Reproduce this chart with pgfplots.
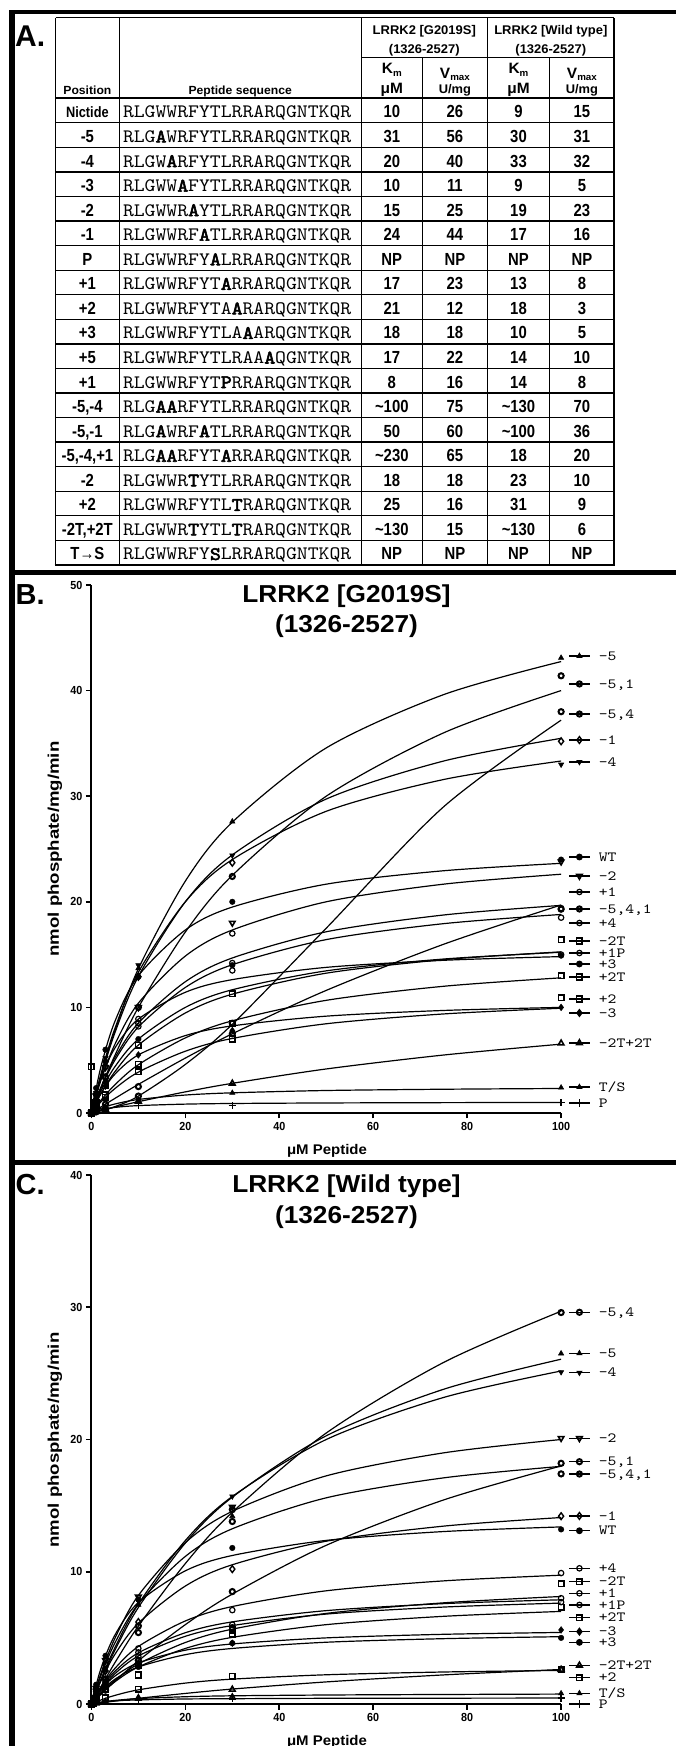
\documentclass[border=0pt]{standalone}
\usepackage{fontspec}
\usepackage{graphicx}
\usepackage{pgfplots}
\usepackage{pgfplotstable}
\pgfplotsset{compat=1.18}
\setmainfont{Liberation Sans}
\newfontfamily\numf{Liberation Sans}[FakeStretch=0.85]
\newfontfamily\hdf{Liberation Sans}[FakeStretch=1.03]
\newfontfamily\ttlf{Liberation Sans}[FakeStretch=1.07]
\newfontfamily\tkf{Liberation Sans}[FakeStretch=0.92]
\newfontfamily\seqf{lmmono10-regular.otf}[BoldFont=lmmono10-regular.otf, BoldFeatures={FakeBold=3}, FakeStretch=1.09]
\newfontfamily\legf{lmmono10-regular.otf}[FakeStretch=1.2]
\newfontfamily\panf{Liberation Sans}
\newcommand\fs[1]{\fontsize{#1}{#1}\selectfont}

% ---------- Panel B data (G2019S) ----------
\pgfplotstableread{
x m5 m51 m54 m1 m4 wt m2 p1 m541 p4 m2t p1p p3 p2t p2 m3 tt ts pp
0 0 0 0 0 0 0 0 0 0 0 0 0 0 0 0 0 0 0 0
2 3.39 2.31 0.2 3.38 3.64 4.33 3.06 2.42 0.56 2.32 1.8 3.2 2.06 1.19 1.04 1.83 0.23 0.43 0.3
5 7.78 5.45 0.6 7.59 8.0 8.67 6.5 5.23 1.38 5.0 3.91 6.15 4.38 2.67 2.31 3.67 0.56 0.85 0.53
10 13.66 10.0 1.6 12.94 13.33 13.0 10.4 8.52 2.71 8.15 6.43 8.89 7.0 4.57 3.87 5.5 1.07 1.28 0.7
20 21.96 17.14 4.6 20.0 20.0 17.33 14.86 12.43 5.2 11.89 9.47 11.43 10.0 7.11 5.85 7.33 2.0 1.7 0.84
30 27.54 22.5 8.4 24.44 24.0 19.5 17.33 14.68 7.5 14.04 11.25 12.63 11.67 8.73 7.06 8.25 2.81 1.91 0.9
50 34.57 30.0 17.5 29.73 28.57 21.67 20.0 17.16 11.61 16.42 13.24 13.79 13.46 10.67 8.45 9.17 4.17 2.13 0.95
75 39.62 36.0 29.0 33.33 31.58 22.94 21.67 18.75 15.98 17.93 14.52 14.46 14.58 12.0 9.38 9.71 5.49 2.25 0.98
100 42.75 40.0 37.2 35.48 33.33 23.64 22.61 19.66 19.70 18.8 15.26 14.81 15.22 12.8 9.92 10.0 6.52 2.32 1.0
}\cB
\pgfplotstableread{
x m5 m51 m54 m1 m4 wt m2 p1 m541 p4 m2t p1p p3 p2t p2 m3 tt ts pp
0 0 0 0 0 0 0 0 0 0 0 4.4 0 0 0 0 0 0 0 0
1 1.75 1.18 0.1 1.76 1.9 2.36 1.63 1.28 0.28 1.22 0.95 1.78 1.09 0.62 0.55 1.0 0.11 0.23 0.18
3 4.94 3.4 0.4 4.89 5.22 6.0 4.33 3.45 0.84 3.3 2.57 4.36 2.92 1.71 1.5 2.54 0.34 0.59 0.39
10 13.7 10.0 1.6 12.9 14.0 12.9 10.0 8.5 2.5 8.2 6.4 8.9 7.0 4.6 3.9 5.5 1.1 1.2 0.7
30 27.6 22.4 8.5 23.7 24.4 20.0 18.0 17.0 7.5 14.2 11.3 13.5 14.0 8.5 7.0 7.8 2.8 1.9 0.7
100 43.1 41.4 38.0 35.2 33.0 24.0 23.8 19.4 19.3 18.5 16.4 15.0 14.9 13.0 10.9 10.0 6.6 2.4 1.0
}\dB
% ---------- Panel C data (wild type) ----------
\pgfplotstableread{
x m54 m5 m4 m2 m51 m541 m1 wt p4 m2t p1 p1p p2t m3 p3 tt p2 ts pp
0 0 0 0 0 0 0 0 0 0 0 0 0 0 0 0 0 0 0 0
2 1.29 1.74 1.84 2.27 0.71 2.12 1.74 2.65 1.26 0.8 1.19 1.09 0.76 1.07 0.93 0.09 0.3 0.14 0.13
5 3.12 4.06 4.25 4.96 1.71 4.61 3.75 5.21 2.69 1.79 2.47 2.29 1.68 2.11 1.87 0.22 0.65 0.27 0.24
10 5.89 7.3 7.56 8.21 3.27 7.57 6.11 7.68 4.35 3.03 3.87 3.63 2.8 3.11 2.8 0.43 1.07 0.41 0.31
20 10.62 12.17 12.36 12.2 6.0 11.16 8.92 10.07 6.28 4.65 5.39 5.12 4.2 4.07 3.73 0.8 1.58 0.55 0.38
30 14.5 15.64 15.69 14.57 8.31 13.25 10.53 11.23 7.37 5.66 6.21 5.93 5.04 4.54 4.2 1.13 1.88 0.62 0.4
50 20.49 20.28 20.0 17.25 12.0 15.59 12.31 12.37 8.56 6.85 7.06 6.8 6.0 5.0 4.67 1.67 2.21 0.68 0.43
75 25.83 23.8 23.18 18.99 15.43 17.1 13.45 13.04 9.31 7.65 7.59 7.33 6.63 5.27 4.94 2.2 2.42 0.72 0.44
100 29.7 26.07 25.18 20.0 18.0 17.97 14.1 13.39 9.74 8.13 7.88 7.63 7.0 5.41 5.09 2.61 2.54 0.75 0.45
}\cC
\pgfplotstableread{
x m54 m5 m4 m2 m51 m541 m1 wt p4 m2t p1 p1p p2t m3 p3 tt p2 ts pp
0 0 0 0 0 0 0 0 0 0 0 0 0 0 0 0 0 0 0 0
1 0.65 0.89 0.94 1.19 0.36 1.12 0.92 1.46 0.67 0.42 0.64 0.58 0.4 0.59 0.51 0.05 0.16 0.07 0.08
3 1.9 2.55 2.65 3.3 1.05 3.0 2.5 3.65 1.8 1.15 1.66 1.55 1.1 1.5 1.3 0.14 0.45 0.19 0.18
10 5.9 7.5 7.8 8.1 3.3 5.4 6.2 7.9 4.2 2.2 3.9 3.6 2.9 3.1 2.8 0.45 1.1 0.4 0.3
30 14.7 14.2 15.7 14.9 8.5 13.8 10.2 11.8 7.1 5.6 6.0 5.8 5.3 4.6 4.6 1.1 2.1 0.6 0.4
100 29.6 26.5 25.1 20.1 18.2 17.4 14.2 13.2 9.9 9.1 8.0 7.7 7.3 5.6 5.0 2.6 2.6 0.8 0.45
}\dC

\pgfplotsset{
  crv/.style={black, line width=1.2pt, smooth, mark=none},
  mTu/.style={mark=triangle*, mark size=3pt, mark options={solid, fill=black, line width=0.6pt}},
  mTd/.style={mark=triangle*, mark size=3pt, mark options={solid, fill=black, rotate=180, line width=0.6pt}},
  mTdo/.style={mark=triangle, mark size=3.2pt, mark options={solid, rotate=180, line width=1.6pt}},
  mTuo/.style={mark=triangle, mark size=3.2pt, mark options={solid, line width=1.6pt}},
  mRing/.style={mark=o, mark size=2.6pt, mark options={solid, line width=2pt}},
  mCo/.style={mark=o, mark size=2.7pt, mark options={solid, line width=1.2pt}},
  mCf/.style={mark=*, mark size=2.8pt, mark options={solid, fill=black}},
  mDo/.style={mark=diamond, mark size=3.4pt, mark options={solid, line width=1.4pt}},
  mDf/.style={mark=diamond*, mark size=3.4pt, mark options={solid, fill=black}},
  mSq/.style={mark=square, mark size=2.8pt, mark options={solid, line width=1.6pt}},
  mPl/.style={mark=+, mark size=3.6pt, mark options={solid, line width=1.6pt}},
  myaxis/.style={
    scale only axis, width=469.7pt,
    xmin=0, xmax=100, ymin=0,
    axis lines*=left, axis line style={line width=2pt, -},
    tick align=outside, major tick length=5.5pt,
    tick style={line width=1.6pt, black},
    xtick={0,20,...,100},
    clip=false,
    /pgf/number format/assume math mode=true,
    tick label style={font=\tkf\bfseries\fs{11.7}},
  },
}
\tikzset{
  leg/.style={anchor=west, inner sep=0pt, text height=8.4pt, text depth=0pt, font=\legf\fs{14}},
  tabn/.style={anchor=base, inner sep=0pt, font=\numf\bfseries\fs{17.5}},
  seq/.style={anchor=base west, inner sep=0pt, font=\seqf\fs{19}},
  hd/.style={anchor=base, inner sep=0pt, font=\hdf\bfseries\fs{12.6}},
  hdk/.style={anchor=base, inner sep=0pt, font=\hdf\bfseries\fs{15}},
  hdu/.style={anchor=base, inner sep=0pt, font=\hdf\bfseries\fs{12.5}},
  hdp/.style={anchor=base, inner sep=0pt, font=\hdf\bfseries\fs{11.8}},
  ttl/.style={anchor=base, inner sep=0pt, font=\ttlf\bfseries\fs{24.5}},
  xl/.style={anchor=base, inner sep=0pt, font=\ttlf\bfseries\fs{14}},
  pan/.style={anchor=base west, inner sep=0pt, font=\panf\bfseries\fs{29}},
}

\newcommand\ser[6]{%
  \addplot[crv] table[x index=0, y index=#3]{#1};
  \addplot[black, only marks, #4] table[x index=0, y index=#3]{#2};
  \addplot[black, line width=1.2pt, sharp plot, #4, mark indices={2}] coordinates {(101.7,#5)(103.9,#5)(106.1,#5)};
  \node[leg] at (axis cs:108.0,#5) {#6};
}

\newcommand\tabrow[7]{%
  \pgfmathsetmacro\yb{98.3+24.56*(#1-1)+19.6}
  \node[tabn] at (87.4,\yb) {#2};
  \node[seq] at (122.8,\yb) {#3};
  \node[tabn] at (391.8,\yb) {#4};
  \node[tabn] at (454.9,\yb) {#5};
  \node[tabn] at (518.5,\yb) {#6};
  \node[tabn] at (581.9,\yb) {#7};
}
\newcommand\tl{\textasciitilde}

\begin{document}
\begin{tikzpicture}
\useasboundingbox (0pt,0pt) rectangle (676pt,1746pt);
\fill[white] (0pt,0pt) rectangle (676pt,1746pt);

\begin{scope}[x=1pt, y=-1pt, yshift=1746pt]
  % frame
  \draw[line width=4pt] (9,12.5) -- (676,12.5);
  \draw[line width=5.5pt] (11.8,10.5) -- (11.8,1746);
  \draw[line width=4.5pt] (9,572.5) -- (676,572.5);
  \draw[line width=4.5pt] (9,1162.5) -- (676,1162.5);
  % panel letters
  \node[pan, font=\panf\bfseries\fs{30}] at (15,46.7) {A.};
  \node[pan] at (15.5,605) {B.};
  \node[pan] at (15.5,1195) {C.};
  % table grid
  \draw[line width=1pt] (55.6,18) -- (614.2,18);
  \draw[line width=1pt] (55.6,18) -- (55.6,565);
  \draw[line width=2.2pt] (614.2,18) -- (614.2,566);
  \draw[line width=2.2pt] (54.6,565) -- (615.2,565);
  \foreach \xx in {119.3,361.1,487.4} \draw[line width=1pt] (\xx,18) -- (\xx,565);
  \foreach \xx in {422.4,549.5} \draw[line width=1pt] (\xx,57.3) -- (\xx,565);
  \draw[line width=1pt] (361.1,57.3) -- (614.2,57.3);
  \draw[line width=2.4pt] (55.6,98.3) -- (614.2,98.3);
  \foreach \ii in {1,...,18} \draw[line width=1.3pt] (55.6,{98.3+24.56*\ii}) -- (614.2,{98.3+24.56*\ii});
  % header
  \node[hd] at (424.3,34.3) {LRRK2 [G2019S]};
  \node[hd] at (424.3,53.3) {(1326-2527)};
  \node[hd] at (550.8,34.3) {LRRK2 [Wild type]};
  \node[hd] at (550.8,53.3) {(1326-2527)};
  \node[hdk] at (391.8,74) {K\raisebox{-2.5pt}{\fs{9.5}m}};
  \node[hdk] at (391.8,94) {μM};
  \node[hdk] at (454.9,78.3) {V\raisebox{-2.5pt}{\fs{9.5}max}};
  \node[hdu] at (454.9,94) {U/mg};
  \node[hdk] at (518.5,74) {K\raisebox{-2.5pt}{\fs{9.5}m}};
  \node[hdk] at (518.5,94) {μM};
  \node[hdk] at (581.9,78.3) {V\raisebox{-2.5pt}{\fs{9.5}max}};
  \node[hdu] at (581.9,94) {U/mg};
  \node[hdp] at (87.4,94.3) {Position};
  \node[hdp] at (240.2,94.3) {Peptide sequence};
  % rows
  \tabrow{1}{{\fs{15}Nictide}}{RLGWWRFYTLRRARQGNTKQR}{10}{26}{9}{15}
  \tabrow{2}{-5}{RLG\textbf{A}WRFYTLRRARQGNTKQR}{31}{56}{30}{31}
  \tabrow{3}{-4}{RLGW\textbf{A}RFYTLRRARQGNTKQR}{20}{40}{33}{32}
  \tabrow{4}{-3}{RLGWW\textbf{A}FYTLRRARQGNTKQR}{10}{11}{9}{5}
  \tabrow{5}{-2}{RLGWWR\textbf{A}YTLRRARQGNTKQR}{15}{25}{19}{23}
  \tabrow{6}{-1}{RLGWWRF\textbf{A}TLRRARQGNTKQR}{24}{44}{17}{16}
  \tabrow{7}{P}{RLGWWRFY\textbf{A}LRRARQGNTKQR}{NP}{NP}{NP}{NP}
  \tabrow{8}{+1}{RLGWWRFYT\textbf{A}RRARQGNTKQR}{17}{23}{13}{8}
  \tabrow{9}{+2}{RLGWWRFYTA\textbf{A}RARQGNTKQR}{21}{12}{18}{3}
  \tabrow{10}{+3}{RLGWWRFYTLA\textbf{A}ARQGNTKQR}{18}{18}{10}{5}
  \tabrow{11}{+5}{RLGWWRFYTLRAA\textbf{A}QGNTKQR}{17}{22}{14}{10}
  \tabrow{12}{+1}{RLGWWRFYT\textbf{P}RRARQGNTKQR}{8}{16}{14}{8}
  \tabrow{13}{-5,-4}{RLG\textbf{AA}RFYTLRRARQGNTKQR}{\tl100}{75}{\tl130}{70}
  \tabrow{14}{-5,-1}{RLG\textbf{A}WRF\textbf{A}TLRRARQGNTKQR}{50}{60}{\tl100}{36}
  \tabrow{15}{-5,-4,+1}{RLG\textbf{AA}RFYT\textbf{A}RRARQGNTKQR}{\tl230}{65}{18}{20}
  \tabrow{16}{-2}{RLGWWR\textbf{T}YTLRRARQGNTKQR}{18}{18}{23}{10}
  \tabrow{17}{+2}{RLGWWRFYTL\textbf{T}RARQGNTKQR}{25}{16}{31}{9}
  \tabrow{18}{-2T,+2T}{RLGWWR\textbf{T}YTL\textbf{T}RARQGNTKQR}{\tl130}{15}{\tl130}{6}
  \tabrow{19}{T→S}{RLGWWRFY\textbf{S}LRRARQGNTKQR}{NP}{NP}{NP}{NP}
  % plot titles and labels
  \node[ttl] at (346.5,602.7) {LRRK2 [G2019S]};
  \node[ttl] at (346.5,633) {(1326-2527)};
  \node[ttl] at (346.5,1192.7) {LRRK2 [Wild type]};
  \node[ttl] at (346.5,1224) {(1326-2527)};
  \node[rotate=90, inner sep=0pt, font=\bfseries\fs{18.6}] at (55,849) {\scalebox{1}[0.83]{nmol phosphate/mg/min}};
  \node[rotate=90, inner sep=0pt, font=\bfseries\fs{18.6}] at (55,1440) {\scalebox{1}[0.83]{nmol phosphate/mg/min}};
  \node[xl] at (327,1155) {μM Peptide};
  \node[xl] at (327,1745) {μM Peptide};
\end{scope}

% ---------- Panel B ----------
\begin{axis}[myaxis, at={(91.4pt,633pt)}, anchor=south west, height=528pt, ymax=50, ytick={0,10,...,50}]
\ser{\cB}{\dB}{1}{mTu}{43.28}{-5}
\ser{\cB}{\dB}{2}{mRing}{40.63}{-5,1}
\ser{\cB}{\dB}{3}{mRing}{37.78}{-5,4}
\ser{\cB}{\dB}{4}{mDo}{35.32}{-1}
\ser{\cB}{\dB}{5}{mTd}{33.24}{-4}
\ser{\cB}{\dB}{6}{mCf}{24.24}{WT}
\ser{\cB}{\dB}{7}{mTdo}{22.44}{-2}
\ser{\cB}{\dB}{8}{mCo}{20.93}{+1}
\ser{\cB}{\dB}{9}{mRing}{19.32}{-5,4,1}
\ser{\cB}{\dB}{10}{mCo}{17.99}{+4}
\ser{\cB}{\dB}{11}{mSq}{16.29}{-2T}
\ser{\cB}{\dB}{12}{mCo}{15.15}{+1P}
\ser{\cB}{\dB}{13}{mCf}{14.11}{+3}
\ser{\cB}{\dB}{14}{mSq}{12.88}{+2T}
\ser{\cB}{\dB}{15}{mSq}{10.8}{+2}
\ser{\cB}{\dB}{16}{mDf}{9.47}{-3}
\ser{\cB}{\dB}{17}{mTuo}{6.63}{-2T+2T}
\ser{\cB}{\dB}{18}{mTu}{2.46}{T/S}
\ser{\cB}{\dB}{19}{mPl}{0.95}{P}
\end{axis}

% ---------- Panel C ----------
\begin{axis}[myaxis, at={(91.4pt,42pt)}, anchor=south west, height=529pt, ymax=40, ytick={0,10,...,40}]
\ser{\cC}{\dC}{1}{mRing}{29.62}{-5,4}
\ser{\cC}{\dC}{2}{mTu}{26.52}{-5}
\ser{\cC}{\dC}{3}{mTd}{25.05}{-4}
\ser{\cC}{\dC}{4}{mTdo}{20.09}{-2}
\ser{\cC}{\dC}{5}{mRing}{18.32}{-5,1}
\ser{\cC}{\dC}{6}{mRing}{17.39}{-5,4,1}
\ser{\cC}{\dC}{7}{mDo}{14.22}{-1}
\ser{\cC}{\dC}{8}{mCf}{13.1}{WT}
\ser{\cC}{\dC}{9}{mCo}{10.26}{+4}
\ser{\cC}{\dC}{10}{mSq}{9.25}{-2T}
\ser{\cC}{\dC}{11}{mCo}{8.37}{+1}
\ser{\cC}{\dC}{12}{mCo}{7.49}{+1P}
\ser{\cC}{\dC}{13}{mSq}{6.53}{+2T}
\ser{\cC}{\dC}{14}{mDf}{5.47}{-3}
\ser{\cC}{\dC}{15}{mCf}{4.66}{+3}
\ser{\cC}{\dC}{16}{mTuo}{2.92}{-2T+2T}
\ser{\cC}{\dC}{17}{mSq}{1.99}{+2}
\ser{\cC}{\dC}{18}{mTu}{0.81}{T/S}
\ser{\cC}{\dC}{19}{mPl}{0.0}{P}
\end{axis}
\end{tikzpicture}
\end{document}
